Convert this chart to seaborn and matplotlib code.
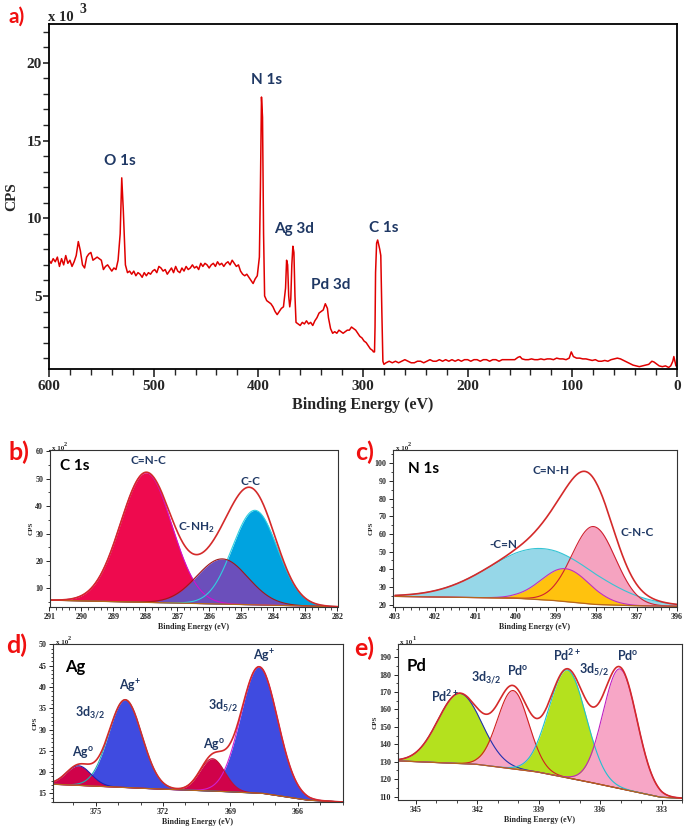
import numpy as np
import seaborn as sns
import matplotlib.pyplot as plt
from matplotlib.ticker import MultipleLocator

#==============================================
# a) survey spectrum, binding energy (eV) and counts (x10^3 CPS)
survey_be = [600, 598, 596, 594, 592, 590, 588, 586, 584, 582, 580, 578, 576, 574, 572,
             570, 568, 566, 564, 562, 560, 558, 556, 554, 552, 550, 548, 546, 544, 542,
             540, 538, 536, 534, 532, 530.5, 529, 527, 525, 523, 521, 519, 517, 515, 513,
             511, 509, 507, 505, 503, 501, 499, 497, 495, 493, 491, 489, 487, 485, 483,
             481, 479, 477, 475, 473, 471, 469, 467, 465, 463, 461, 459, 457, 455, 453,
             451, 449, 447, 445, 443, 441, 439, 437, 435, 433, 431, 429, 427, 425, 423,
             421, 419, 417, 415, 413, 411, 409, 407, 405, 403, 401, 399, 398, 397, 396,
             395, 394, 392, 390, 388, 386, 384, 382, 380, 378, 376, 374, 373, 372, 371,
             370, 369, 368, 367, 366, 365, 364, 362, 360, 358, 356, 354, 352, 350, 348,
             346, 344, 342, 340, 338, 336, 334, 333, 331, 329, 327, 325, 323, 321, 319,
             317, 315, 313, 311, 309, 307, 305, 303, 301, 299, 297, 295, 293, 291, 290,
             289, 288.5, 288, 287, 286, 285, 284, 283, 282, 281, 280, 278, 275, 272, 269,
             266, 263, 260, 257, 254, 251, 248, 245, 242, 239, 236, 233, 230, 227, 224,
             221, 218, 215, 212, 209, 206, 203, 200, 197, 194, 191, 188, 185, 182, 179,
             176, 173, 170, 167, 164, 161, 158, 155, 152, 150, 148, 145, 142, 139, 136,
             133, 130, 127, 124, 121, 118, 115, 112, 109, 106, 103, 101, 99, 96, 93,
             90, 87, 84, 81, 78, 75, 72, 69, 66, 63, 60, 57, 54, 51, 48,
             45, 42, 39, 36, 33, 30, 27, 24, 22, 20, 17, 14, 11, 8, 6,
             4, 3, 2, 1, 0]
survey_cps = [7.3, 7.1, 7.4, 7.2, 7.5, 6.9, 7.4, 7.0, 7.6, 7.1, 7.3, 6.9, 7.2, 7.6, 8.5,
              7.9, 7.0, 6.8, 7.5, 7.7, 7.8, 7.3, 7.4, 7.5, 7.4, 7.3, 6.7, 6.9, 7.0, 6.8,
              6.6, 6.8, 6.7, 7.3, 9.0, 12.6, 10.5, 7.0, 6.5, 6.6, 6.4, 6.6, 6.3, 6.5, 6.4,
              6.2, 6.5, 6.3, 6.5, 6.4, 6.6, 6.7, 6.5, 6.9, 6.8, 6.6, 6.7, 6.4, 6.6, 6.8,
              6.5, 6.9, 6.6, 6.5, 6.8, 6.6, 6.9, 6.7, 6.8, 7.0, 6.8, 6.9, 6.7, 7.1, 6.9,
              7.1, 7.0, 6.8, 7.0, 7.1, 6.9, 7.2, 7.0, 7.1, 6.9, 7.1, 7.2, 7.0, 7.3, 7.1,
              6.9, 7.0, 6.6, 6.4, 6.3, 6.4, 6.2, 6.0, 5.8, 6.1, 6.3, 7.5, 12.0, 17.8, 16.5,
              9.0, 5.0, 4.7, 4.6, 4.5, 4.3, 4.0, 3.8, 4.0, 4.2, 4.3, 5.5, 7.3, 7.0, 5.0,
              4.3, 4.8, 7.0, 8.2, 7.8, 5.0, 3.3, 3.2, 3.1, 3.3, 3.2, 3.4, 3.2, 3.3, 3.1,
              3.4, 3.6, 3.9, 4.0, 4.1, 4.5, 4.2, 3.6, 2.9, 2.6, 2.7, 2.6, 2.8, 2.7, 2.6,
              2.7, 2.8, 2.8, 3.0, 2.9, 2.8, 2.6, 2.4, 2.3, 2.1, 2.0, 1.8, 1.6, 1.5, 1.4,
              1.4, 3.0, 6.5, 8.4, 8.6, 8.3, 8.0, 7.6, 4.0, 0.8, 0.6, 0.7, 0.8, 0.7, 0.8,
              0.7, 0.8, 0.9, 0.8, 0.7, 0.7, 0.8, 0.8, 0.7, 0.8, 0.9, 0.8, 0.8, 0.9, 0.8,
              0.9, 0.8, 0.9, 0.8, 0.9, 0.8, 0.9, 0.9, 0.8, 0.9, 0.9, 0.8, 0.9, 0.9, 0.8,
              0.9, 0.9, 0.8, 0.9, 0.9, 0.9, 0.9, 0.9, 1.05, 1.1, 0.95, 0.9, 0.9, 0.95, 0.9,
              0.9, 0.95, 0.9, 0.95, 0.95, 0.9, 1.0, 0.95, 0.95, 0.9, 1.0, 1.4, 1.1, 1.0, 1.0,
              0.95, 0.95, 0.9, 0.85, 0.9, 0.8, 0.8, 0.85, 0.8, 0.9, 0.95, 1.0, 0.95, 0.85, 0.75,
              0.65, 0.55, 0.5, 0.45, 0.5, 0.55, 0.6, 0.8, 0.75, 0.65, 0.5, 0.45, 0.5, 0.4, 0.5,
              0.8, 1.1, 0.8, 0.5, 0.5]

survey_labels = ["O 1s", "N 1s", "Ag 3d", "Pd 3d", "C 1s"]
survey_label_x = [532, 392, 366, 331, 280]
survey_label_y = [13.7, 18.9, 9.3, 5.7, 9.4]

#==============================================
# b) C 1s fit (x10^2 CPS)
c1s_names = ["C=N-C", "C-NH$_\\mathbf{2}$", "C-C"]
c1s_center = [287.98, 285.6, 284.58]
c1s_height = [47.3, 16.5, 34.5]
c1s_fwhm = [1.88, 1.88, 1.65]
c1s_bg_be = [282, 291]
c1s_bg = [3.3, 5.7]
c1s_label_x = [287.9, 286.4, 284.73]
c1s_label_y = [56.7, 32.0, 49.0]

# c) N 1s fit (x10^2 CPS)
n1s_names = ["-C=N", "C=N-H", "C-N-C"]
n1s_center = [399.35, 398.77, 398.07]
n1s_height = [29.0, 18.6, 44.0]
n1s_fwhm = [3.06, 1.41, 1.27]
n1s_bg_be = [396, 397, 398, 399, 400, 403]
n1s_bg = [19.0, 19.3, 20.0, 22.2, 23.6, 24.6]
n1s_label_x = [400.3, 399.13, 397.0]
n1s_label_y = [54.1, 95.9, 61.0]

# d) Ag 3d fit (x10^2 CPS)
ag_center = [375.76, 373.68, 369.8, 367.72]
ag_height = [4.6, 20.6, 7.6, 29.7]
ag_fwhm = [1.3, 1.74, 1.3, 1.93]
ag_bg_be = [364, 365.5, 366.5, 367.5, 369, 372, 377]
ag_bg = [13.0, 13.4, 14.2, 15.0, 15.4, 16.0, 17.2]
ag_labels = ["Ag$^\\mathbf{o}$", "3d$_\\mathbf{3/2}$", "Ag$^\\mathbf{+}$",
             "Ag$^\\mathbf{o}$", "3d$_\\mathbf{5/2}$", "Ag$^\\mathbf{+}$"]
ag_label_x = [375.57, 375.24, 373.48, 369.73, 369.3, 367.5]
ag_label_y = [24.8, 34.0, 40.2, 26.7, 35.7, 47.3]

# e) Pd 3d fit (x10^1 CPS)
pd_center = [342.86, 340.25, 337.6, 335.03]
pd_height = [40.3, 45.0, 62.0, 68.7]
pd_fwhm = [2.5, 1.8, 2.15, 1.95]
pd_bg_be = [332, 333, 334, 336, 339, 342, 345.9]
pd_bg = [109.0, 109.5, 112.0, 117.0, 124.0, 128.5, 130.5]
pd_labels = ["Pd$^\\mathbf{2+}$", "3d$_\\mathbf{3/2}$", "Pd$^\\mathbf{o}$",
             "Pd$^\\mathbf{2+}$", "3d$_\\mathbf{5/2}$", "Pd$^\\mathbf{o}$"]
pd_label_x = [343.55, 341.55, 340.0, 337.6, 336.3, 334.67]
pd_label_y = [167.5, 178.0, 182.8, 191.4, 182.8, 191.0]

#==============================================
sns.set_theme(style="ticks")
plt.rcParams['font.family'] = ['Liberation Serif', 'DejaVu Sans']
plt.rcParams['font.weight'] = 'bold'
plt.rcParams['axes.labelweight'] = 'bold'
plt.rcParams['mathtext.fontset'] = 'custom'
plt.rcParams['mathtext.rm'] = 'Lato'
plt.rcParams['mathtext.bf'] = 'Lato:bold'

W, H = 685, 827
fig = plt.figure(figsize=(W / 100, H / 100), dpi=100)
navy = "#1F3864"
red_lbl = "#F01010"
sans = ['Lato', 'DejaVu Sans']


def box(l, t, r, b):
    return fig.add_axes([l / W, 1 - b / H, (r - l) / W, (b - t) / H])


def gauss(x, c, h, w):
    return h * np.exp(-4 * np.log(2) * (x - c) ** 2 / w ** 2)


def style_small(ax, xmaj, xmin, ymaj, ymin):
    ax.xaxis.set_major_locator(MultipleLocator(xmaj))
    ax.xaxis.set_minor_locator(MultipleLocator(xmin))
    ax.yaxis.set_major_locator(MultipleLocator(ymaj))
    ax.yaxis.set_minor_locator(MultipleLocator(ymin))
    ax.tick_params(which='major', direction='out', length=3, width=0.7, labelsize=5.8, pad=1.5)
    ax.tick_params(which='minor', direction='out', length=1.8, width=0.6)
    for s in ax.spines.values():
        s.set_linewidth(0.8)
        s.set_color('#333333')
    ax.set_xlabel("Binding Energy (eV)", fontsize=5.8, labelpad=1)
    ax.set_ylabel("CPS", fontsize=5, labelpad=1)


def draw_fit(ax, lo, hi, bg_be, bg_vals, centers, heights, fwhms, fills, edges, order):
    grid = np.linspace(lo, hi, 500)
    bg = np.interp(grid, bg_be, bg_vals)
    comps = [gauss(grid, c, h, w) for c, h, w in zip(centers, heights, fwhms)]
    for i in order:
        ax.fill_between(grid, bg, bg + comps[i], color=fills[i], lw=0)
    for i in order:
        sns.lineplot(x=grid, y=bg + comps[i], ax=ax, color=edges[i], lw=0.8)
    sns.lineplot(x=grid, y=bg, ax=ax, color="#B5651D", lw=0.9)
    sns.lineplot(x=grid, y=bg + np.sum(comps, axis=0), ax=ax, color="#D42A2A", lw=1.2)


#==============================================
# a) survey
ax = box(49, 24, 677, 369)
sns.lineplot(x=survey_be, y=survey_cps, ax=ax, color="#E00000", lw=1.1, estimator=None)
ax.set_xlim(600, 0)
ax.set_ylim(0.3, 22.5)
ax.xaxis.set_major_locator(MultipleLocator(100))
ax.xaxis.set_minor_locator(MultipleLocator(20))
ax.yaxis.set_major_locator(MultipleLocator(5))
ax.yaxis.set_minor_locator(MultipleLocator(1))
ax.tick_params(which='major', direction='out', length=6, width=1.2, labelsize=11, pad=2)
ax.tick_params(which='minor', direction='out', length=4, width=1.0)
ax.tick_params(axis='y', which='major', length=4, pad=1)
for s in ax.spines.values():
    s.set_linewidth(1.3)
    s.set_color('black')
ax.set_xlabel("Binding Energy (eV)", fontsize=11.5, labelpad=3)
ax.set_ylabel("CPS", fontsize=11, labelpad=6)
for t, x, y in zip(survey_labels, survey_label_x, survey_label_y):
    ax.text(x, y, t, family=sans, weight='bold', fontsize=11, color=navy, ha='center', va='center')
fig.text(48 / W, 1 - 24 / H, "x 10", fontsize=10.5, va='bottom', ha='left')
fig.text(79 / W, 1 - 16 / H, "3", fontsize=10, va='bottom', ha='left')
fig.text(17 / W, 1 - 17 / H, "a)", family=sans, weight='bold', fontsize=15, color=red_lbl, ha='center', va='center')

# b) C 1s
ax = box(49.5, 450, 337.5, 607)
draw_fit(ax, 282, 291, c1s_bg_be, c1s_bg, c1s_center, c1s_height, c1s_fwhm,
         ["#EE0A4E", "#6B4FBB", "#00A3E0"], ["#D010D0", "#A01818", "#30D0E0"], [0, 2, 1])
ax.set_xlim(291, 282)
ax.set_ylim(3.2, 60.5)
style_small(ax, 1, 0.2, 10, 5)
for t, x, y in zip(c1s_names, c1s_label_x, c1s_label_y):
    ax.text(x, y, t, family=sans, weight='bold', fontsize=8.5, color=navy, ha='center', va='center')
ax.text(290.2, 54.8, "C 1s", family=sans, weight='bold', fontsize=11, color='black', ha='center', va='center')
fig.text(52 / W, 1 - 451 / H, "x 10", fontsize=5, va='bottom')
fig.text(64 / W, 1 - 447 / H, "2", fontsize=4.5, va='bottom')
fig.text(19 / W, 1 - 452 / H, "b)", family=sans, weight='bold', fontsize=18, color=red_lbl, ha='center', va='center')

# c) N 1s
ax = box(393, 450, 677, 607)
draw_fit(ax, 396, 403, n1s_bg_be, n1s_bg, n1s_center, n1s_height, n1s_fwhm,
         ["#96D7E8", "#FFC20E", "#F5A3C0"], ["#35C4D4", "#C030C0", "#D02030"], [0, 2, 1])
ax.set_xlim(403.05, 396)
ax.set_ylim(18.6, 107.5)
style_small(ax, 1, 0.2, 10, 5)
for t, x, y in zip(n1s_names, n1s_label_x, n1s_label_y):
    ax.text(x, y, t, family=sans, weight='bold', fontsize=8.5, color=navy, ha='center', va='center')
ax.text(402.3, 96.8, "N 1s", family=sans, weight='bold', fontsize=11, color='black', ha='center', va='center')
fig.text(396 / W, 1 - 451 / H, "x 10", fontsize=5, va='bottom')
fig.text(408 / W, 1 - 447 / H, "2", fontsize=4.5, va='bottom')
fig.text(365 / W, 1 - 452 / H, "c)", family=sans, weight='bold', fontsize=18, color=red_lbl, ha='center', va='center')

# d) Ag 3d
ax = box(53, 644, 342.6, 802)
draw_fit(ax, 364, 377, ag_bg_be, ag_bg, ag_center, ag_height, ag_fwhm,
         ["#D0024A", "#3F4BE0", "#D0024A", "#3F4BE0"], ["#2020B0", "#20B0B0", "#C01030", "#D020D0"], [1, 3, 0, 2])
ax.set_xlim(376.9, 364)
ax.set_ylim(13, 50.1)
style_small(ax, 3, 1, 5, 1)
for t, x, y in zip(ag_labels, ag_label_x, ag_label_y):
    ax.text(x, y, t, family=sans, weight='bold', fontsize=9, color=navy, ha='center', va='center')
ax.text(375.9, 44.7, "Ag", family=sans, weight='bold', fontsize=12, color='black', ha='center', va='center')
fig.text(56 / W, 1 - 645 / H, "x 10", fontsize=5, va='bottom')
fig.text(68 / W, 1 - 641 / H, "2", fontsize=4.5, va='bottom')
fig.text(17 / W, 1 - 645 / H, "d)", family=sans, weight='bold', fontsize=18, color=red_lbl, ha='center', va='center')

# e) Pd 3d
ax = box(397.5, 644, 682, 800)
draw_fit(ax, 332, 345.9, pd_bg_be, pd_bg, pd_center, pd_height, pd_fwhm,
         ["#B4E11E", "#F7A6C6", "#B4E11E", "#F7A6C6"], ["#2030B0", "#D02020", "#20C0D0", "#C020C0"], [0, 1, 2, 3])
ax.set_xlim(345.9, 332)
ax.set_ylim(108, 197.6)
style_small(ax, 3, 1, 10, 5)
for t, x, y in zip(pd_labels, pd_label_x, pd_label_y):
    ax.text(x, y, t, family=sans, weight='bold', fontsize=9, color=navy, ha='center', va='center')
ax.text(344.95, 184.7, "Pd", family=sans, weight='bold', fontsize=12, color='black', ha='center', va='center')
fig.text(400 / W, 1 - 645 / H, "x 10", fontsize=5, va='bottom')
fig.text(412 / W, 1 - 641 / H, "1", fontsize=4.5, va='bottom')
fig.text(364 / W, 1 - 648 / H, "e)", family=sans, weight='bold', fontsize=18, color=red_lbl, ha='center', va='center')

fig.savefig("out.png", dpi=100)
